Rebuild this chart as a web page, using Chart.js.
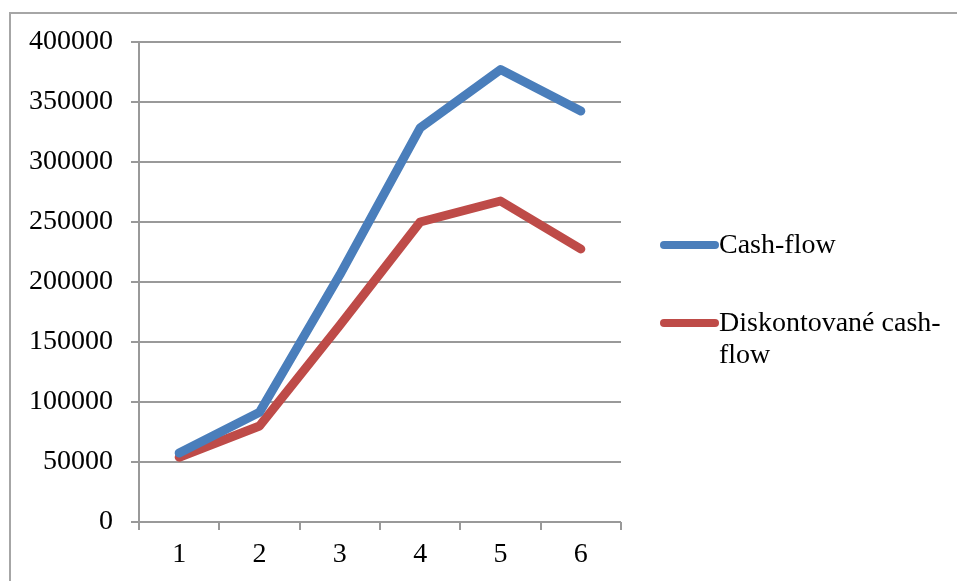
<!DOCTYPE html>
<html>
<head>
<meta charset="utf-8">
<script src="https://cdn.jsdelivr.net/npm/chart.js@4/dist/chart.umd.min.js"></script>
<style>
  html, body { margin: 0; padding: 0; background: #fff; overflow: hidden; }
  #wrap { position: relative; width: 957px; height: 581px; }
  #frame { position: absolute; left: 9px; top: 12px; width: 1000px; height: 700px;
           border-left: 2px solid #a6a6a6; border-top: 2px solid #a6a6a6; }
  canvas { position: absolute; left: 0; top: 0; }
</style>
</head>
<body>
<div id="wrap">
  <div id="frame"></div>
  <canvas id="lineChart" width="957" height="581"></canvas>
</div>
<script>
// data
const years = ['1', '2', '3', '4', '5', '6'];
const cashFlow = [57500, 91500, 206000, 328500, 377000, 342500];
const discountedCashFlow = [54000, 80000, 164000, 250000, 267500, 227500];
const seriesNames = ['Cash-flow', ['Diskontované cash-', 'flow']];
const seriesColors = ['#4a7ebb', '#be4b48'];

const fontFamily = '"Liberation Serif", "DejaVu Serif", serif';

// legend drawn by hand (wrapped text like the original)
const sideLegend = {
    id: 'sideLegend',
    afterDraw(chart) {
        const ctx = chart.ctx;
        const rows = [245, 323];
        ctx.save();
        chart.data.datasets.forEach((ds, i) => {
            const y = rows[i];
            ctx.strokeStyle = ds.borderColor;
            ctx.lineWidth = 8;
            ctx.lineCap = 'round';
            ctx.beginPath();
            ctx.moveTo(664, y);
            ctx.lineTo(715, y);
            ctx.stroke();
            ctx.fillStyle = '#000';
            ctx.font = '28px ' + fontFamily;
            ctx.textBaseline = 'middle';
            ctx.textAlign = 'left';
            const lines = Array.isArray(seriesNames[i]) ? seriesNames[i] : [seriesNames[i]];
            lines.forEach((t, k) => ctx.fillText(t, 719, y + 1 + k * 32));
        });
        ctx.restore();
    }
};

new Chart(document.getElementById('lineChart'), {
    type: 'line',
    data: {
        labels: years,
        datasets: [{
            label: 'Cash-flow',
            data: cashFlow,
            borderColor: seriesColors[0],
            backgroundColor: seriesColors[0],
            borderWidth: 9,
            pointRadius: 0,
            borderCapStyle: 'round',
            borderJoinStyle: 'round',
            tension: 0
        }, {
            label: 'Diskontované cash-flow',
            data: discountedCashFlow,
            borderColor: seriesColors[1],
            backgroundColor: seriesColors[1],
            borderWidth: 9,
            pointRadius: 0,
            borderCapStyle: 'round',
            borderJoinStyle: 'round',
            tension: 0
        }]
    },
    options: {
        responsive: false,
        animation: false,
        layout: { padding: { left: 0, top: 42, right: 336, bottom: 0 } },
        plugins: {
            legend: { display: false },
            tooltip: { enabled: false }
        },
        scales: {
            x: {
                offset: true,
                grid: {
                    offset: true,
                    drawOnChartArea: false,
                    tickLength: 8,
                    color: '#999',
                    lineWidth: 2
                },
                border: { display: false },
                ticks: {
                    color: '#000',
                    font: { family: fontFamily, size: 28 },
                    padding: 8
                },
                afterFit(scale) { scale.height = 59; }
            },
            y: {
                min: 0,
                max: 400000,
                grid: {
                    color: '#999',
                    lineWidth: 2,
                    tickLength: 8
                },
                border: { display: true, color: '#999', width: 2 },
                ticks: {
                    stepSize: 50000,
                    color: '#000',
                    font: { family: fontFamily, size: 28 },
                    padding: 18,
                    callback: value => String(value)
                },
                afterFit(scale) { scale.width = 139; }
            }
        }
    },
    plugins: [sideLegend]
});
</script>
</body>
</html>
